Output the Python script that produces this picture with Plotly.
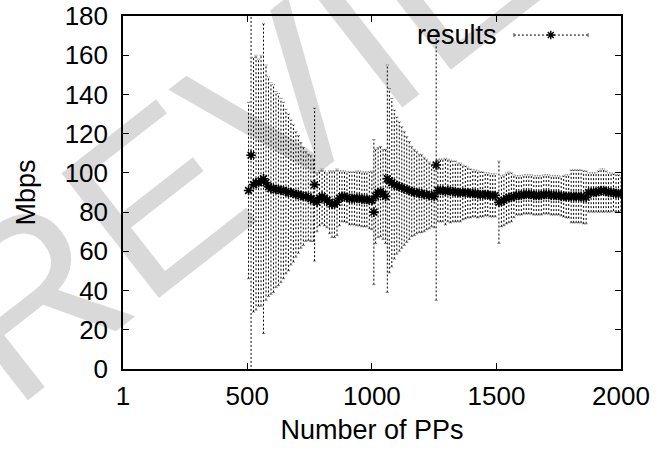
import plotly.graph_objects as go

# ---------------- data ----------------
x_pps = [505, 515, 525, 535, 545, 555, 565, 575, 585, 595, 605, 615, 625, 635, 645,
         655, 665, 675, 685, 695, 705, 715, 725, 735, 745, 755, 765,
         770, 780, 790, 800, 810, 820, 830, 840, 850, 860, 870, 880, 890, 900, 910,
         920, 930, 940, 950, 960, 970, 980, 990, 1000,
         1008, 1015, 1025, 1035, 1045, 1055,
         1062, 1070, 1080, 1090, 1100, 1110, 1120, 1130, 1140, 1150, 1160, 1170, 1180,
         1190, 1200, 1210, 1220, 1230, 1240, 1250,
         1258, 1265, 1275, 1285, 1295, 1305, 1315, 1325, 1335, 1345, 1355, 1365, 1375,
         1385, 1395, 1405, 1415, 1425, 1435, 1445, 1455, 1465, 1475, 1485, 1495,
         1510, 1520, 1530, 1540, 1550, 1560, 1570, 1580,
         1590, 1600, 1610, 1620, 1630, 1640, 1650, 1660, 1670, 1680, 1690, 1700, 1710,
         1720, 1730, 1740, 1750, 1760, 1770, 1780, 1790,
         1800, 1810, 1820, 1830, 1840, 1850, 1860,
         1870, 1880, 1890, 1900, 1910, 1920, 1930, 1940, 1950, 1960, 1970, 1980, 1990, 2000]

mean_mbps = [91, 109, 94, 95, 95, 96, 97, 95, 93, 92, 92, 91.5, 91.5, 91, 91,
             90.5, 90, 90, 89.5, 89, 89, 88.5, 88, 88, 87.5, 87, 86,
             94, 85, 87, 88, 87, 86, 85, 84, 84, 85, 87, 88, 88, 87.5, 87,
             87, 87, 87, 87, 86.5, 86.5, 86.5, 86, 86,
             80, 88, 90, 90.5, 89, 88,
             97, 96, 95, 94, 93.5, 93, 92.5, 92, 91.5, 91, 90.5, 90, 90,
             89.5, 89.5, 89, 89, 88.5, 88.5, 88,
             104, 91, 91, 91, 90.5, 91, 90.5, 90.5, 90.5, 90, 90, 90, 90,
             90, 89.5, 89.5, 89.5, 89, 89, 89, 89, 89, 88.5, 88.5, 88.5,
             85, 85.5, 86, 87, 87.5, 87.5, 88, 88.5,
             88.5, 88.5, 89, 89, 89, 89, 88.5, 88.5, 88.5, 88.5, 89, 89, 89,
             88.5, 88.5, 88.5, 88.5, 88, 88, 88, 88,
             88, 88, 88, 88, 88, 87.5, 87.5,
             90, 90, 90, 90, 90.5, 91, 91, 90.5, 90, 90, 90, 89.5, 89.5, 89.5]

err_mbps = [45, 112, 65, 65, 63, 64, 79, 60, 56, 54, 53, 50, 49, 47, 45,
            42, 40, 37, 35, 32, 30, 27, 25, 23, 22, 22, 21,
            39, 15, 14, 14, 14, 14, 16, 17, 17, 17, 14, 13, 13, 13, 13.5,
            13.5, 13.5, 14, 14, 14, 14, 14, 14.5, 15,
            37, 24, 23, 23, 23, 24,
            58, 47, 43, 38, 35, 33, 31, 29, 27, 25, 23, 22, 21,
            20, 20, 19, 18, 17, 16, 16,
            69, 16, 16, 16, 17, 16, 16, 15.5, 15.5, 15, 15, 14, 13.5,
            13, 12.5, 12, 12, 12, 11.5, 11.5, 11, 11, 11, 11, 11,
            21, 13, 13, 13, 13, 12.5, 11, 10,
            10, 10, 10, 10, 10, 10, 10, 10, 10, 10, 10, 10, 10,
            10, 10, 10, 10, 10, 10.5, 11, 11,
            13.5, 13.5, 13.5, 13.5, 13.5, 13.5, 13.5,
            10, 10, 10, 10, 10.5, 11, 11, 10.5, 10, 10, 9.5, 9.5, 9.5, 9]

x_ticks = [1, 500, 1000, 1500, 2000]
y_ticks = [0, 20, 40, 60, 80, 100, 120, 140, 160, 180]
series_name = "results"
x_title = "Number of PPs"
y_title = "Mbps"
watermark = "PREVIEW"

FONT = "Liberation Sans, Arial, Helvetica, sans-serif"
CAP = 6  # half width of the error-bar caps, in x units

# ---------------- error bars as dotted vertical segments + caps ----------------
ex, ey, cx, cy = [], [], [], []
for xv, m, e in zip(x_pps, mean_mbps, err_mbps):
    ex += [xv, xv, None]
    ey += [m - e, m + e, None]
    cx += [xv - CAP, xv + CAP, None, xv - CAP, xv + CAP, None]
    cy += [m - e, m - e, None, m + e, m + e, None]

fig = go.Figure()

fig.add_trace(go.Scatter(
    x=ex, y=ey, mode="lines",
    line=dict(color="black", width=1, dash="2px,2px"),
    hoverinfo="skip", showlegend=False,
))
fig.add_trace(go.Scatter(
    x=cx, y=cy, mode="lines",
    line=dict(color="rgba(0,0,0,0.55)", width=1, dash="1px,1px"),
    hoverinfo="skip", showlegend=False,
))

fig.add_trace(go.Scatter(
    x=x_pps, y=mean_mbps, mode="markers", name=series_name,
    marker=dict(symbol="asterisk-open", size=8, color="black",
                line=dict(color="black", width=1.6)),
    showlegend=False,
))

# ---------------- key sample (gnuplot style: text then sample) ----------------
fig.add_trace(go.Scatter(
    x=[0.785, 0.934], y=[0.946, 0.946], xaxis="x2", yaxis="y2", mode="lines",
    line=dict(color="black", width=1, dash="2px,2px"),
    hoverinfo="skip", showlegend=False,
))
fig.add_trace(go.Scatter(
    x=[0.785, 0.785, None, 0.934, 0.934], y=[0.940, 0.952, None, 0.940, 0.952],
    xaxis="x2", yaxis="y2", mode="lines",
    line=dict(color="rgba(0,0,0,0.6)", width=1),
    hoverinfo="skip", showlegend=False,
))
fig.add_trace(go.Scatter(
    x=[0.859], y=[0.946], xaxis="x2", yaxis="y2", mode="markers",
    marker=dict(symbol="asterisk-open", size=7, color="black",
                line=dict(color="black", width=1.4)),
    hoverinfo="skip", showlegend=False,
))

axis_common = dict(
    showline=True, linecolor="black", linewidth=1.5, mirror="ticks",
    ticks="inside", ticklen=6, tickwidth=1, tickcolor="black",
    showgrid=False, zeroline=False, automargin=False,
    tickfont=dict(family=FONT, size=26, color="black"),
)

fig.update_layout(
    width=668, height=457,
    margin=dict(l=123, r=47, t=16, b=88, autoexpand=False),
    paper_bgcolor="white", plot_bgcolor="rgba(0,0,0,0)",
    font=dict(family=FONT, color="black"),
    xaxis=dict(range=[1, 2000], tickvals=x_ticks, ticktext=[str(v) for v in x_ticks],
               title=dict(text=x_title, font=dict(family=FONT, size=27), standoff=10),
               ticklabelstandoff=3, **axis_common),
    yaxis=dict(range=[0, 180], tickvals=y_ticks,
               title=dict(text=y_title, font=dict(family=FONT, size=27), standoff=21),
               ticklabelstandoff=8, **axis_common),
    xaxis2=dict(overlaying="x", range=[0, 1], visible=False),
    yaxis2=dict(overlaying="y", range=[0, 1], visible=False),
    showlegend=False,
    annotations=[
        dict(text=series_name, xref="paper", yref="paper", x=0.755, y=0.946,
             xanchor="right", yanchor="middle", showarrow=False,
             font=dict(family=FONT, size=27, color="black")),
        dict(text=watermark, xref="paper", yref="paper", x=0.279, y=0.714,
             xanchor="center", yanchor="middle", showarrow=False, textangle=-38,
             font=dict(family=FONT, size=230, color="rgba(0,0,0,0.15)")),
    ],
)

fig.write_html("out.html")
